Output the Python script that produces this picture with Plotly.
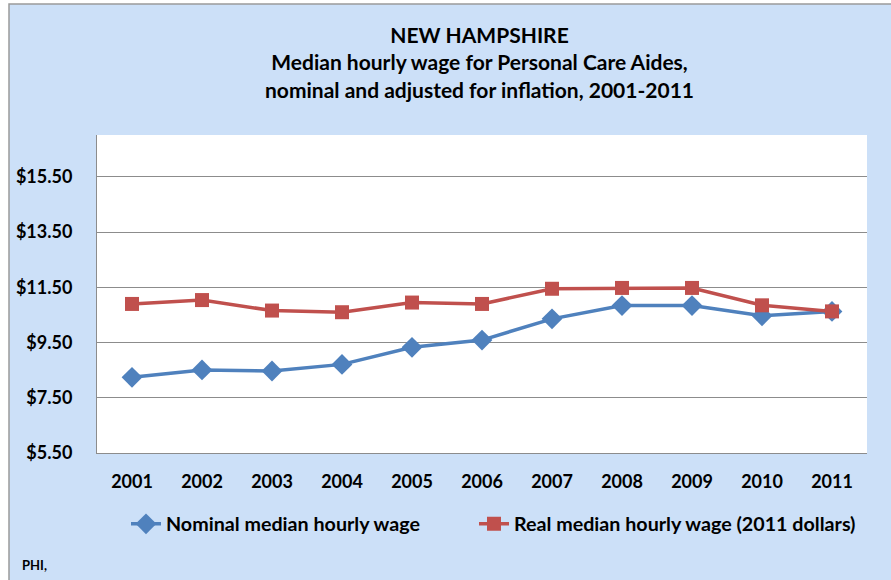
import plotly.graph_objects as go

years = ['2001', '2002', '2003', '2004', '2005', '2006', '2007', '2008', '2009', '2010', '2011']
nominal = [8.24, 8.51, 8.47, 8.71, 9.33, 9.59, 10.36, 10.84, 10.84, 10.47, 10.63]
real = [10.90, 11.04, 10.66, 10.60, 10.95, 10.90, 11.45, 11.48, 11.48, 10.85, 10.63]
y_ticks = [5.5, 7.5, 9.5, 11.5, 13.5, 15.5]

W, H = 891, 580
L, R, T, B = 97, 24, 135, 127
pw, ph = W - L - R, H - T - B


def px_x(p):
    return (p - L) / pw


def px_y(p):
    return (H - B - p) / ph


BLUE = '#4F81BD'
RED = '#C0504D'
BG = '#CCE0F8'
GRID = '#8C8C8C'
FONT = 'Lato'

fig = go.Figure()
fig.add_trace(go.Scatter(
    x=years, y=nominal, name='Nominal median hourly wage',
    mode='lines+markers', legend='legend',
    line=dict(color=BLUE, width=3.5),
    marker=dict(symbol='diamond', size=16, color=BLUE),
))
fig.add_trace(go.Scatter(
    x=years, y=real, name='Real median hourly wage (2011 dollars)',
    mode='lines+markers', legend='legend2',
    line=dict(color=RED, width=3.5),
    marker=dict(symbol='square', size=14, color=RED),
))

# chart area background + plot area background
fig.add_shape(type='rect', xref='paper', yref='paper', layer='below',
              x0=px_x(9), x1=px_x(1000), y0=px_y(700), y1=px_y(4),
              fillcolor=BG, line=dict(color='#9A9A9A', width=1.5))
fig.add_shape(type='rect', xref='paper', yref='paper', layer='below',
              x0=0, x1=1, y0=0, y1=1, fillcolor='white', line=dict(width=0))

fig.add_annotation(
    text='NEW HAMPSHIRE<br>Median hourly wage for Personal Care Aides,<br>nominal and adjusted for inflation, 2001-2011',
    xref='paper', yref='paper', x=px_x(479), y=px_y(20), xanchor='center', yanchor='top',
    showarrow=False, align='center',
    font=dict(family=FONT, size=21, color='black', weight='bold'),
)
fig.add_annotation(
    text='PHI,', xref='paper', yref='paper', x=px_x(20), y=px_y(565),
    xanchor='left', yanchor='middle', showarrow=False,
    font=dict(family=FONT, size=13, color='black', weight='bold'),
)

legend_style = dict(orientation='h', xanchor='left', yanchor='middle',
                    bgcolor='rgba(0,0,0,0)', font=dict(family=FONT, size=19.7, weight='bold'))

fig.update_layout(
    width=W, height=H,
    margin=dict(l=L, r=R, t=T, b=B, autoexpand=False),
    paper_bgcolor='white',
    plot_bgcolor='white',
    font=dict(family=FONT, size=16, color='black', weight='bold'),
    showlegend=True,
    legend=dict(x=px_x(126), y=px_y(524), **legend_style),
    legend2=dict(x=px_x(474), y=px_y(524), **legend_style),
    xaxis=dict(type='category', range=[-0.5, 10.5], showgrid=False,
               showline=True, linecolor=GRID, linewidth=1, ticks='',
               ticklabelstandoff=12, tickfont=dict(size=18, weight='bold')),
    yaxis=dict(range=[5.5, 17.02], tickvals=y_ticks,
               ticktext=['$%.2f' % v for v in y_ticks],
               showgrid=True, gridcolor=GRID, gridwidth=1, zeroline=False,
               showline=True, linecolor=GRID, linewidth=1, ticks='',
               ticklabelstandoff=20, tickfont=dict(size=18, weight='bold')),
)

fig.write_html('out.html', config={'displayModeBar': False},
               post_script="document.body.style.margin='0px';document.body.style.overflow='hidden';")
